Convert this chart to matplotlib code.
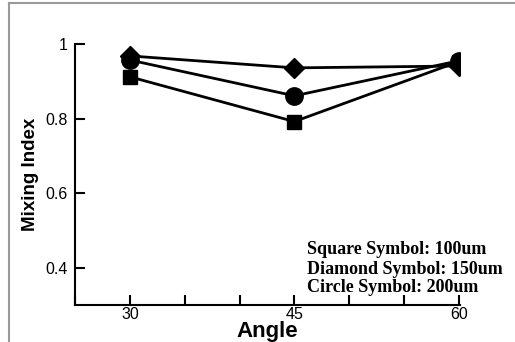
import matplotlib
matplotlib.use("Agg")
import matplotlib.pyplot as plt
from matplotlib.lines import Line2D
from matplotlib.ticker import MultipleLocator

# Mixing index versus channel angle for three channel widths
angles = [30, 45, 60]
square_100um = [0.912, 0.792, 0.953]
diamond_150um = [0.968, 0.936, 0.941]
circle_200um = [0.957, 0.861, 0.955]

y_ticks = [0.4, 0.6, 0.8, 1.0]
y_tick_labels = ["0.4", "0.6", "0.8", "1"]
x_ticks = [30, 45, 60]
notes = ["Square Symbol: 100um", "Diamond Symbol: 150um", "Circle Symbol: 200um"]

fig = plt.figure(figsize=(5.15, 3.42), dpi=100)
ax = fig.add_axes([75 / 515, 1 - 305 / 342, (460 - 75) / 515, (305 - 44) / 342])

ax.plot(angles, square_100um, color="black", lw=2, marker="s", ms=10.5, zorder=3)
ax.plot(angles, diamond_150um, color="black", lw=2, marker="D", ms=10, zorder=3)
ax.plot(angles, circle_200um, color="black", lw=2, marker="o", ms=12.5, zorder=4)

ax.set_xlim(25, 60.1)
ax.set_ylim(0.3, 1.0)
ax.set_xticks(x_ticks)
ax.xaxis.set_minor_locator(MultipleLocator(5))
ax.set_yticks(y_ticks)
ax.set_yticklabels(y_tick_labels)

for side in ("top", "right"):
    ax.spines[side].set_visible(False)
for side in ("left", "bottom"):
    ax.spines[side].set_linewidth(1.5)

ax.tick_params(axis="both", which="both", direction="in", width=1.5,
               labelsize=11.5, colors="black")
ax.tick_params(axis="both", which="major", length=7)
ax.tick_params(axis="x", which="minor", length=7)
ax.tick_params(axis="x", pad=1.5)
ax.tick_params(axis="y", pad=5)

for lab in ax.get_xticklabels() + ax.get_yticklabels():
    lab.set_family("Liberation Sans")

ax.set_xlabel("Angle", family="Liberation Sans", fontweight="bold", fontsize=16)
ax.xaxis.set_label_coords(0.5, -0.062)
ax.set_ylabel("Mixing Index", family="Liberation Sans", fontweight="bold",
              fontsize=13.5, labelpad=5)

for i, t in enumerate(notes):
    fig.text(307 / 515, 1 - (250 + 19 * i) / 342, t, family="Liberation Serif",
             fontweight="bold", fontsize=13, va="center", ha="left")

# thin gray frame along the left and top edges
fig.add_artist(Line2D([9 / 515, 9 / 515], [0, 1 - 3 / 342],
                      transform=fig.transFigure, color="#999999", lw=1.5))
fig.add_artist(Line2D([9 / 515, 1], [1 - 3 / 342, 1 - 3 / 342],
                      transform=fig.transFigure, color="#999999", lw=1.5))

fig.savefig("out.png", dpi=100)
